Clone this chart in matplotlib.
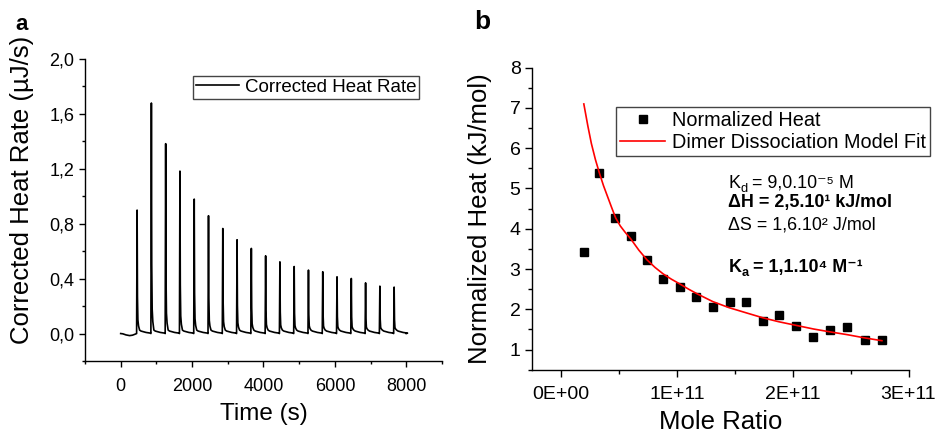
import numpy as np
import matplotlib
matplotlib.use("Agg")
import matplotlib.pyplot as plt
from matplotlib.ticker import MultipleLocator, FixedLocator, FixedFormatter
from matplotlib.transforms import offset_copy

plt.rcParams['font.family'] = ['Liberation Sans', 'DejaVu Sans']

# ---------------- Panel a data ----------------
injection_times = [450, 850, 1250, 1650, 2050, 2450, 2850, 3250, 3650, 4050,
                   4450, 4850, 5250, 5650, 6050, 6450, 6850, 7250, 7650]
peak_heights = [0.899, 1.679, 1.383, 1.183, 0.979, 0.858, 0.765, 0.683, 0.620, 0.566,
                0.522, 0.488, 0.462, 0.450, 0.413, 0.401, 0.369, 0.345, 0.338]
pre_times = [0, 60, 150, 250, 330, 400, 440]
pre_values = [0.0, -0.002, -0.010, -0.015, -0.012, -0.005, 0.0]
end_time = 8000
end_value = 0.0
# peak shape (offset in s from injection, fraction of height, residual tail)
shape_offsets = [-4, 10, 20, 32, 50, 80, 120, 180, 260, 385]
shape_frac = [0.0, 1.0, 0.30, 0.10, 0.04, 0.0, 0.0, 0.0, 0.0, 0.0]
shape_tail = [0.0, 0.0, 0.0, 0.01, 0.02, 0.025, 0.018, 0.014, 0.008, 0.003]

y_ticks_a = [0.0, 0.4, 0.8, 1.2, 1.6, 2.0]
y_ticklabels_a = ['0,0', '0,4', '0,8', '1,2', '1,6', '2,0']
x_ticks_a = [0, 2000, 4000, 6000, 8000]
x_ticklabels_a = ['0', '2000', '4000', '6000', '8000']

# ---------------- Panel b data ----------------
mole_ratio = [0.193, 0.330, 0.468, 0.606, 0.744, 0.882, 1.026, 1.167, 1.310, 1.454,
              1.595, 1.739, 1.882, 2.029, 2.175, 2.322, 2.468, 2.621, 2.770]  # x 1e11
norm_heat = [3.415, 5.375, 4.259, 3.812, 3.225, 2.745, 2.547, 2.315, 2.059, 2.183,
             2.175, 1.711, 1.852, 1.579, 1.306, 1.488, 1.571, 1.232, 1.232]
fit_x = [0.195, 0.23, 0.26, 0.295, 0.33, 0.365, 0.40, 0.435, 0.47, 0.51, 0.55, 0.60,
         0.67, 0.74, 0.81, 0.88, 0.95, 1.03, 1.10, 1.17, 1.31, 1.45, 1.60, 1.74, 1.88,
         2.03, 2.18, 2.32, 2.47, 2.62, 2.77]  # x 1e11
fit_y = [7.10, 6.55, 6.12, 5.72, 5.38, 5.07, 4.80, 4.53, 4.27, 4.07, 3.92, 3.75,
         3.47, 3.23, 3.04, 2.88, 2.75, 2.62, 2.50, 2.39, 2.19, 2.04, 1.91, 1.79, 1.69,
         1.60, 1.51, 1.44, 1.37, 1.29, 1.22]
x_ticks_b = [0.0, 1.0, 2.0, 3.0]  # x 1e11
x_ticklabels_b = ['0E+00', '1E+11', '2E+11', '3E+11']
y_ticks_b = [1, 2, 3, 4, 5, 6, 7, 8]
y_ticklabels_b = ['1', '2', '3', '4', '5', '6', '7', '8']

# build the heat-rate trace vertices from the read peak values
t_trace = list(pre_times)
v_trace = list(pre_values)
for t0, h in zip(injection_times, peak_heights):
    for off, fr, tl in zip(shape_offsets, shape_frac, shape_tail):
        t_trace.append(t0 + off)
        v_trace.append(fr * h + tl)
t_trace.append(end_time)
v_trace.append(end_value)

fig = plt.figure(figsize=(9.37, 4.34), dpi=100)

# ---------------- Panel a ----------------
axa = fig.add_axes([0.0907, 0.1682, 0.4717 - 0.0907, 0.8641 - 0.1682])
axa.plot(t_trace, v_trace, color='black', lw=1.2, label='Corrected Heat Rate')
axa.set_xlim(-1000, 9000)
axa.set_ylim(-0.2, 2.0)
for s in ['top', 'right']:
    axa.spines[s].set_visible(False)
for s in ['left', 'bottom']:
    axa.spines[s].set_linewidth(1.0)
axa.xaxis.set_major_locator(FixedLocator(x_ticks_a))
axa.xaxis.set_major_formatter(FixedFormatter(x_ticklabels_a))
axa.yaxis.set_major_locator(FixedLocator(y_ticks_a))
axa.yaxis.set_major_formatter(FixedFormatter(y_ticklabels_a))
axa.xaxis.set_minor_locator(MultipleLocator(1000))
axa.yaxis.set_minor_locator(MultipleLocator(0.2))
axa.tick_params(which='major', length=4, width=1.0, labelsize=13)
axa.tick_params(which='minor', length=2.5, width=1.0)
axa.tick_params(axis='x', which='major', pad=8)
axa.tick_params(axis='y', which='major', pad=3.5)
axa.set_xlabel('Time (s)', fontsize=17.5)
axa.set_ylabel('Corrected Heat Rate (µJ/s)', fontsize=18.5)
axa.xaxis.set_label_coords(0.5, -0.14)
axa.yaxis.set_label_coords(-0.143, 0.566)
leg_a = axa.legend(loc='upper right', bbox_to_anchor=(0.9356, 0.9437), fontsize=13.5,
                   frameon=True, fancybox=False, edgecolor='#444444', framealpha=1,
                   handlelength=2.3, handletextpad=0.3, borderpad=0.15, borderaxespad=0)
leg_a.get_frame().set_linewidth(1.0)
fig.text(22 / 937, 1 - 25 / 434, 'a', fontsize=16, fontweight='bold', ha='center', va='center')

# ---------------- Panel b ----------------
axb = fig.add_axes([0.5681, 0.1482, 0.9696 - 0.5681, 0.8440 - 0.1482])
axb.plot(mole_ratio, norm_heat, linestyle='none', marker='s', color='black',
         markersize=5.3, label='Normalized Heat')
axb.plot(fit_x, fit_y, color='red', lw=1.2, label='Dimer Dissociation Model Fit')
axb.set_xlim(-0.25, 3.0)
axb.set_ylim(0.5, 8.0)
for s in ['top', 'right']:
    axb.spines[s].set_visible(False)
for s in ['left', 'bottom']:
    axb.spines[s].set_linewidth(1.0)
axb.xaxis.set_major_locator(FixedLocator(x_ticks_b))
axb.xaxis.set_major_formatter(FixedFormatter(x_ticklabels_b))
axb.yaxis.set_major_locator(FixedLocator(y_ticks_b))
axb.yaxis.set_major_formatter(FixedFormatter(y_ticklabels_b))
axb.xaxis.set_minor_locator(MultipleLocator(0.5))
axb.yaxis.set_minor_locator(MultipleLocator(0.5))
axb.tick_params(which='major', length=5, width=1.0, labelsize=14)
axb.tick_params(which='minor', length=3, width=1.0)
axb.tick_params(axis='x', which='major', pad=7)
axb.tick_params(axis='y', which='major', pad=3.5)
axb.set_xlabel('Mole Ratio', fontsize=18.5)
axb.set_ylabel('Normalized Heat (kJ/mol)', fontsize=18.5)
axb.xaxis.set_label_coords(0.501, -0.135)
axb.yaxis.set_label_coords(-0.107, 0.499)
leg_b = axb.legend(loc='upper right', bbox_to_anchor=(1.057, 0.871), fontsize=14.3,
                   frameon=True, fancybox=False, edgecolor='#444444', framealpha=1,
                   handlelength=2.3, handletextpad=0.33, borderpad=0.2,
                   labelspacing=0.15, borderaxespad=0)
leg_b.get_frame().set_linewidth(1.0)
fig.text(482 / 937, 1 - 22 / 434, 'b', fontsize=19, fontweight='bold', ha='center', va='center')

# annotation lines: parts of (text, is_subscript)
fs = 12.9
renderer = fig.canvas.get_renderer()


def draw_parts(ax, x, y, parts, weight='normal'):
    dx = 0.0  # offset in points
    for s, sub in parts:
        size = fs * 0.72 if sub else fs
        dy = -fs * 0.22 if sub else 0.0
        tr = offset_copy(ax.transAxes, fig=fig, x=dx, y=dy, units='points')
        t = ax.text(x, y, s, transform=tr, fontsize=size, fontweight=weight,
                    va='baseline', ha='left')
        bb = t.get_window_extent(renderer)
        dx += bb.width * 72.0 / fig.dpi


txt_x = 0.521
draw_parts(axb, txt_x, 0.6026, [('K', False), ('d', True), (' = 9,0.10⁻⁵ M', False)])
draw_parts(axb, txt_x, 0.5377, [('ΔH = 2,5.10¹ kJ/mol', False)], weight='bold')
draw_parts(axb, txt_x, 0.4649, [('ΔS = 1,6.10² J/mol', False)])
draw_parts(axb, txt_x, 0.3245, [('K', False), ('a', True), (' = 1,1.10⁴ M⁻¹', False)],
           weight='bold')

fig.savefig('out.png', dpi=100)
